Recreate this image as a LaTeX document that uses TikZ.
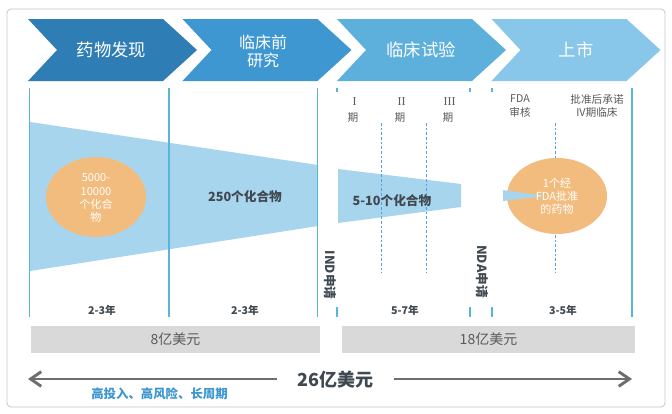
\documentclass[tikz,border=0pt]{standalone}
\usepackage{fontspec}
\setmainfont{Noto Sans CJK SC}
\newfontfamily\romanfont{Liberation Serif}
\usetikzlibrary{arrows.meta,shapes.geometric}
\definecolor{chA}{HTML}{2E7DB5}
\definecolor{chB}{HTML}{3E97D0}
\definecolor{chC}{HTML}{5EB0DC}
\definecolor{chD}{HTML}{88C7EA}
\definecolor{funnel}{HTML}{A8D5EE}
\definecolor{vline}{HTML}{5BB5D9}
\definecolor{oval}{HTML}{F2BC7E}
\definecolor{darktxt}{HTML}{404850}
\definecolor{graytxt}{HTML}{5A5A5A}
\definecolor{barfill}{HTML}{D9D9D9}
\definecolor{arrgray}{HTML}{6E6E6E}
\definecolor{bluetxt}{HTML}{3C96CF}
\newcommand\fsz[2]{\fontsize{#1}{#2}\selectfont}
\tikzset{
  chevtext/.style={text=white, align=center, inner sep=0pt},
  fullline/.style={draw=vline, line width=0.8pt},
  dashline/.style={draw=vline!90!blue, line width=0.75pt, dash pattern=on 2pt off 1.5pt},
  ovalnode/.style={ellipse, fill=oval, inner sep=0pt, minimum width=75pt, minimum height=60pt},
  ovaltext/.style={text=white, align=center, inner sep=0pt, font=\fsz{8.3}{9.8}},
  cmpd/.style={text=darktxt, font=\bfseries\fsz{9.5}{11}, inner sep=0pt},
  yearlbl/.style={text=darktxt, font=\bfseries\fsz{8}{9}, inner sep=0pt},
  phaselbl/.style={text=graytxt, align=center, inner sep=0pt},
  vtext/.style={text=darktxt, font=\bfseries\fsz{9.5}{11}, rotate=-90, inner sep=0pt},
  costbar/.style={fill=barfill, draw=none, text=graytxt, font=\fsz{10.5}{12}},
  bigarrow/.style={draw=arrgray, line width=2.2pt, -{Straight Barb[length=8pt,width=11pt]}}
}
\begin{document}
\begin{tikzpicture}[x=0.75pt,y=-0.75pt]
\useasboundingbox (0,0) rectangle (672,414);
% frame
\draw[rounded corners=3pt, draw=black!22, line width=0.6pt, fill=white] (7,9) rectangle (665,407);
% chevrons
\fill[chA] (28,19) -- (163,19) -- (197,50) -- (163,81) -- (28,81) -- (57,50) -- cycle;
\fill[chB] (182.5,19) -- (317.5,19) -- (351.5,50) -- (317.5,81) -- (182.5,81) -- (211.5,50) -- cycle;
\fill[chC] (337,19) -- (472,19) -- (506,50) -- (472,81) -- (337,81) -- (366,50) -- cycle;
\fill[chD] (491.5,19) -- (626.5,19) -- (660.5,50) -- (626.5,81) -- (491.5,81) -- (520.5,50) -- cycle;
\node[chevtext, font=\fsz{13}{15}] (c1) at (111.5,50) {药物发现};
\node[chevtext, font=\fsz{12}{13.5}] (c2) at (263,51) {临床前\\研究};
\node[chevtext, font=\fsz{13}{15}] (c3) at (421,50) {临床试验};
\node[chevtext, font=\fsz{13}{15}] (c4) at (576,50) {上市};
% funnels
\fill[funnel] (30,122) -- (318,165) -- (318,226) -- (30,271) -- cycle;
\fill[funnel] (338,169) -- (461,184) -- (461,207) -- (338,223) -- cycle;
% full vertical lines
\foreach \x in {29.5,169,317.5,632} \draw[fullline] (\x,88) -- (\x,317);
% short ticks
\foreach \x in {337,470,492} {
  \draw[fullline] (\x,88) -- (\x,92);
  \draw[fullline] (\x,307) -- (\x,317);
}
% dashed lines
\foreach \x in {381,426,555} \draw[dashline] (\x,123) -- (\x,273);
% ovals
\node[ovalnode] (e1) at (96,197) {};
\node[ovaltext] (t1) at (96,198) {5000-\\10000\\个化合\\物};
\node[ovalnode, minimum height=57pt] (e2) at (557,196) {};
\fill[funnel] (503,190) -- (545,196) -- (503,201) -- cycle;
\node[ovaltext] (t2) at (557,196) {1个经\\FDA批准\\的药物};
% compound labels
\node[cmpd] (n250) at (245,197) {250个化合物};
\node[cmpd] (n510) at (392,201) {5-10个化合物};
% vertical labels
\node[vtext] (ind) at (330,275) {IND申请};
\node[vtext] (nda) at (482,271.5) {NDA申请};
% phase labels
\node[phaselbl, font=\fsz{8}{12}] (p1) at (353,110) {{\romanfont\fsz{9}{12} I}\\期};
\node[phaselbl, font=\fsz{8}{12}] (p2) at (400,110) {{\romanfont\fsz{9}{12} II}\\期};
\node[phaselbl, font=\fsz{8}{12}] (p3) at (448,110) {{\romanfont\fsz{9}{12} III}\\期};
\node[phaselbl, font=\fsz{8}{10.5}] (p4) at (520,106) {FDA\\审核};
\node[phaselbl, font=\fsz{8}{10}] (p5) at (597,106) {批准后承诺\\IV期临床};
% years
\node[yearlbl] (y1) at (102,310) {2-3年};
\node[yearlbl] (y2) at (245,310) {2-3年};
\node[yearlbl] (y3) at (405,310) {5-7年};
\node[yearlbl] (y4) at (563,310) {3-5年};
% cost bars
\node[costbar, minimum width=216.75pt, minimum height=20.25pt] (b1) at (175.5,339.5) {8亿美元};
\node[costbar, minimum width=219.75pt, minimum height=20.25pt] (b2) at (488.5,339.5) {18亿美元};
% total arrow
\node[text=darktxt, font=\bfseries\fsz{13.5}{15}, inner xsep=15pt, inner ysep=0pt] (total) at (335.5,380) {26亿美元};
\coordinate (aL) at (28,379);
\coordinate (aR) at (632,379);
\draw[bigarrow] (total.west |- aL) -- (aL);
\draw[bigarrow] (total.east |- aR) -- (aR);
\node[text=bluetxt, font=\bfseries\fsz{9.3}{11}, inner sep=0pt] (risk) at (159.5,394) {高投入、高风险、长周期};
\end{tikzpicture}
\end{document}
